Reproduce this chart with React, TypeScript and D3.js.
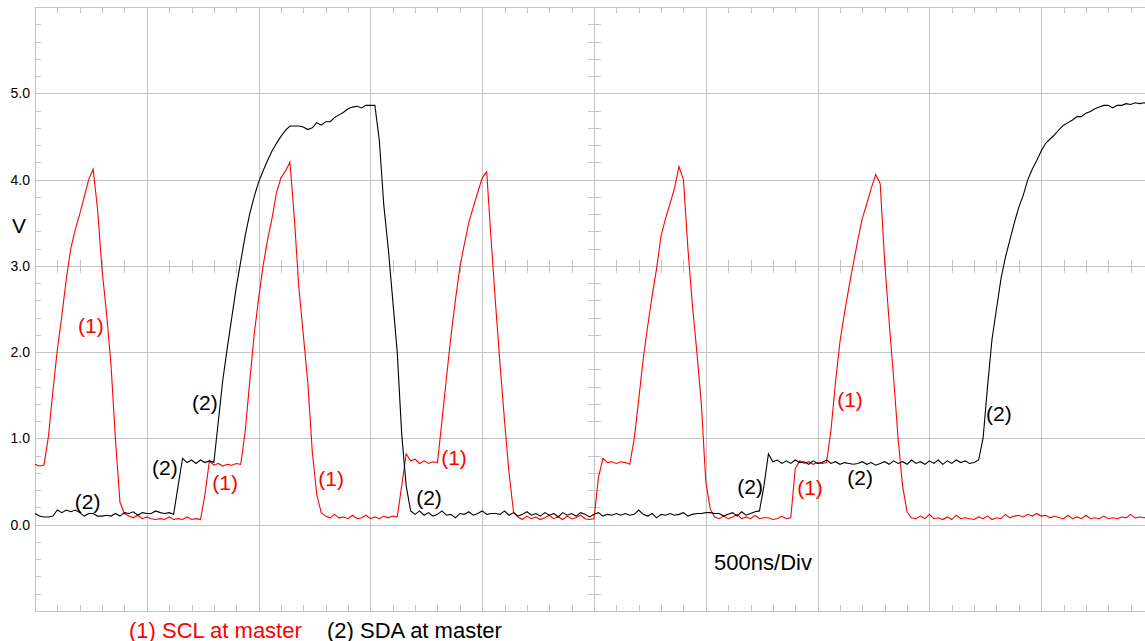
import React, { useEffect, useRef } from "react";
import * as d3 from "d3";

// scope samples, one every 20 ns, 0 .. 5000 ns (volts)
const SAMPLE_NS = 20;

const sclVolts = [
  0.70, 0.68, 0.69, 1.02, 1.55, 2.03, 2.42, 2.85, 3.20, 3.42,
  3.60, 3.80, 4.00, 4.12, 3.65, 2.95, 2.45, 1.85, 0.98, 0.26,
  0.13, 0.10, 0.08, 0.11, 0.07, 0.09, 0.07, 0.06, 0.07, 0.06,
  0.09, 0.06, 0.07, 0.06, 0.09, 0.06, 0.07, 0.06, 0.35, 0.74,
  0.69, 0.71, 0.68, 0.70, 0.69, 0.71, 0.70, 1.08, 1.65, 2.20,
  2.62, 3.00, 3.30, 3.55, 3.85, 4.02, 4.10, 4.20, 3.55, 2.75,
  2.20, 1.65, 0.85, 0.35, 0.14, 0.10, 0.08, 0.12, 0.08, 0.09,
  0.07, 0.11, 0.07, 0.08, 0.11, 0.07, 0.09, 0.07, 0.10, 0.08,
  0.10, 0.09, 0.45, 0.82, 0.74, 0.76, 0.71, 0.74, 0.71, 0.73,
  0.72, 1.20, 1.70, 2.18, 2.60, 2.98, 3.25, 3.50, 3.68, 3.85,
  4.02, 4.09, 3.30, 2.55, 1.85, 1.20, 0.60, 0.15, 0.09, 0.06,
  0.10, 0.07, 0.09, 0.06, 0.08, 0.11, 0.07, 0.09, 0.06, 0.10,
  0.07, 0.08, 0.11, 0.07, 0.06, 0.07, 0.55, 0.77, 0.72, 0.73,
  0.71, 0.73, 0.72, 0.70, 1.00, 1.45, 1.92, 2.30, 2.65, 2.97,
  3.35, 3.55, 3.72, 3.90, 4.15, 4.00, 3.20, 2.55, 2.00, 1.40,
  0.50, 0.18, 0.09, 0.07, 0.10, 0.07, 0.09, 0.12, 0.07, 0.09,
  0.07, 0.11, 0.07, 0.08, 0.08, 0.06, 0.07, 0.10, 0.07, 0.08,
  0.65, 0.74, 0.71, 0.73, 0.70, 0.72, 0.71, 0.72, 1.10, 1.65,
  2.12, 2.45, 2.75, 3.03, 3.30, 3.55, 3.72, 3.90, 4.06, 3.95,
  3.05, 2.35, 1.70, 1.00, 0.45, 0.15, 0.08, 0.07, 0.10, 0.07,
  0.12, 0.07, 0.08, 0.06, 0.09, 0.06, 0.11, 0.07, 0.08, 0.07,
  0.06, 0.09, 0.07, 0.10, 0.06, 0.08, 0.07, 0.12, 0.08, 0.10,
  0.11, 0.09, 0.12, 0.10, 0.13, 0.10, 0.11, 0.08, 0.10, 0.08,
  0.07, 0.11, 0.07, 0.09, 0.07, 0.11, 0.07, 0.08, 0.07, 0.10,
  0.07, 0.08, 0.07, 0.09, 0.08, 0.12, 0.08, 0.09, 0.08, 0.09,
  0.08,
];

const sdaVolts = [
  0.13, 0.10, 0.09, 0.09, 0.10, 0.17, 0.14, 0.17, 0.15, 0.17,
  0.14, 0.10, 0.13, 0.13, 0.10, 0.10, 0.11, 0.10, 0.13, 0.10,
  0.14, 0.13, 0.15, 0.11, 0.14, 0.13, 0.13, 0.16, 0.14, 0.13,
  0.14, 0.12, 0.45, 0.77, 0.72, 0.75, 0.71, 0.75, 0.72, 0.74,
  0.72, 1.20, 1.68, 2.05, 2.40, 2.75, 3.05, 3.35, 3.60, 3.80,
  3.97, 4.10, 4.22, 4.33, 4.42, 4.50, 4.57, 4.62, 4.62, 4.62,
  4.61, 4.58, 4.60, 4.66, 4.63, 4.67, 4.67, 4.72, 4.75, 4.78,
  4.82, 4.84, 4.85, 4.83, 4.86, 4.86, 4.86, 4.45, 3.70, 3.20,
  2.60, 2.00, 1.05, 0.45, 0.16, 0.12, 0.16, 0.11, 0.14, 0.10,
  0.12, 0.16, 0.11, 0.12, 0.08, 0.13, 0.12, 0.15, 0.11, 0.13,
  0.16, 0.12, 0.13, 0.13, 0.12, 0.16, 0.11, 0.14, 0.10, 0.12,
  0.15, 0.11, 0.13, 0.10, 0.14, 0.11, 0.13, 0.09, 0.14, 0.11,
  0.13, 0.10, 0.14, 0.12, 0.09, 0.12, 0.14, 0.10, 0.12, 0.11,
  0.13, 0.11, 0.13, 0.11, 0.12, 0.17, 0.12, 0.10, 0.13, 0.08,
  0.12, 0.11, 0.13, 0.11, 0.12, 0.14, 0.10, 0.12, 0.13, 0.13,
  0.14, 0.14, 0.13, 0.13, 0.10, 0.12, 0.14, 0.10, 0.15, 0.11,
  0.13, 0.15, 0.16, 0.45, 0.82, 0.73, 0.75, 0.71, 0.74, 0.71,
  0.75, 0.72, 0.73, 0.70, 0.74, 0.71, 0.72, 0.75, 0.71, 0.73,
  0.70, 0.72, 0.71, 0.70, 0.71, 0.73, 0.70, 0.72, 0.69, 0.71,
  0.73, 0.70, 0.74, 0.71, 0.73, 0.70, 0.75, 0.71, 0.73, 0.70,
  0.74, 0.71, 0.75, 0.70, 0.74, 0.71, 0.75, 0.72, 0.74, 0.71,
  0.72, 0.75, 1.00, 1.60, 2.15, 2.50, 2.85, 3.10, 3.30, 3.50,
  3.68, 3.82, 4.00, 4.12, 4.22, 4.33, 4.42, 4.47, 4.52, 4.58,
  4.63, 4.66, 4.69, 4.73, 4.73, 4.77, 4.79, 4.82, 4.84, 4.86,
  4.86, 4.83, 4.86, 4.86, 4.88, 4.87, 4.89, 4.88, 4.89, 4.88,
  4.89,
];

const yTickValues = [0, 1, 2, 3, 4, 5];

// "(1)" / "(2)" markers next to the traces, in ns / volts
const traceLabels = [
  { text: "(1)", trace: "scl", t: 250, v: 2.31 },
  { text: "(2)", trace: "sda", t: 760, v: 1.42 },
  { text: "(2)", trace: "sda", t: 235, v: 0.27 },
  { text: "(2)", trace: "sda", t: 581, v: 0.66 },
  { text: "(1)", trace: "scl", t: 850, v: 0.49 },
  { text: "(1)", trace: "scl", t: 1324, v: 0.53 },
  { text: "(1)", trace: "scl", t: 1874, v: 0.78 },
  { text: "(2)", trace: "sda", t: 1762, v: 0.31 },
  { text: "(2)", trace: "sda", t: 3198, v: 0.44 },
  { text: "(1)", trace: "scl", t: 3466, v: 0.43 },
  { text: "(1)", trace: "scl", t: 3645, v: 1.45 },
  { text: "(2)", trace: "sda", t: 3690, v: 0.55 },
  { text: "(2)", trace: "sda", t: 4311, v: 1.29 },
];

const legendItems = [
  { text: "(1) SCL at master", trace: "scl" },
  { text: "(2) SDA at master", trace: "sda" },
];

const timeBase = { text: "500ns/Div", t: 3256, v: -0.44 };
const unitLabel = "V";

const traceColor: Record<string, string> = { scl: "#ff0000", sda: "#000000" };

function Scope() {
  const ref = useRef<SVGSVGElement>(null);

  useEffect(() => {
    if (!ref.current) return;
    const svg = d3.select(ref.current);
    svg.selectAll("*").remove();

    const font = "'Liberation Sans', Arial, sans-serif";
    const gridColor = "#c4c4c4";

    const x = d3.scaleLinear().domain([0, 5000]).range([35, 1153]);
    const y = d3.scaleLinear().domain([-1, 6]).range([611, 7]);
    const px = (n: number) => Math.round(n) + 0.5;

    svg.append("defs").append("clipPath").attr("id", "plot-clip")
      .append("rect")
      .attr("x", x(0)).attr("y", y(6))
      .attr("width", x(5000) - x(0)).attr("height", y(-1) - y(6));

    const grid = svg.append("g")
      .attr("stroke", gridColor)
      .attr("stroke-width", 1)
      .attr("shape-rendering", "crispEdges");

    // major divisions
    const xMajor = d3.range(0, 5001, 500);
    const yMajor = d3.range(-1, 7, 1);
    grid.selectAll(".vx").data(xMajor).join("line")
      .attr("x1", d => px(x(d))).attr("x2", d => px(x(d)))
      .attr("y1", y(6)).attr("y2", y(-1));
    grid.selectAll(".hy").data(yMajor).join("line")
      .attr("class", "hy")
      .attr("x1", x(0)).attr("x2", x(5000))
      .attr("y1", d => px(y(d))).attr("y2", d => px(y(d)));

    // minor ticks, 5 per division
    const xMinor = d3.range(0, 51).filter(k => k % 5 !== 0).map(k => k * 100);
    const yMinor = d3.range(-5, 31).filter(k => k % 5 !== 0).map(k => k / 5);
    const tl = 6;
    const xc = x(2500), yc = y(3);

    const addX = (yPos: number, dy0: number, dy1: number) =>
      grid.append("g").selectAll("line").data(xMinor).join("line")
        .attr("x1", d => px(x(d))).attr("x2", d => px(x(d)))
        .attr("y1", yPos + dy0).attr("y2", yPos + dy1);
    const addY = (xPos: number, dx0: number, dx1: number) =>
      grid.append("g").selectAll("line").data(yMinor).join("line")
        .attr("y1", d => px(y(d))).attr("y2", d => px(y(d)))
        .attr("x1", xPos + dx0).attr("x2", xPos + dx1);

    addX(y(6), 0, tl);
    addX(y(-1), -tl, 0);
    addX(yc, -tl, tl + 1);
    addY(x(0), 0, tl);
    addY(xc, -tl, tl + 1);

    // y labels
    svg.append("g").selectAll("text").data(yTickValues).join("text")
      .attr("x", 30)
      .attr("y", d => y(d))
      .attr("text-anchor", "end")
      .attr("dominant-baseline", "central")
      .attr("font-family", font)
      .attr("font-size", 14)
      .attr("fill", "#000")
      .text(d => d3.format(".1f")(d));

    svg.append("text")
      .attr("x", 19).attr("y", y(3.47))
      .attr("text-anchor", "middle")
      .attr("dominant-baseline", "central")
      .attr("font-family", font)
      .attr("font-size", 21)
      .text(unitLabel);

    // traces
    const line = d3.line<number>()
      .x((_, i) => x(i * SAMPLE_NS))
      .y(d => y(d));

    const traces = svg.append("g").attr("clip-path", "url(#plot-clip)");
    traces.append("path")
      .attr("d", line(sclVolts))
      .attr("fill", "none")
      .attr("stroke", traceColor.scl)
      .attr("stroke-width", 1.1);
    traces.append("path")
      .attr("d", line(sdaVolts))
      .attr("fill", "none")
      .attr("stroke", traceColor.sda)
      .attr("stroke-width", 1.1);

    // trace markers
    svg.append("g").selectAll("text").data(traceLabels).join("text")
      .attr("x", d => x(d.t))
      .attr("y", d => y(d.v))
      .attr("text-anchor", "middle")
      .attr("dominant-baseline", "central")
      .attr("font-family", font)
      .attr("font-size", 21)
      .attr("fill", d => traceColor[d.trace])
      .text(d => d.text);

    svg.append("text")
      .attr("x", x(timeBase.t)).attr("y", y(timeBase.v))
      .attr("text-anchor", "middle")
      .attr("dominant-baseline", "central")
      .attr("font-family", font)
      .attr("font-size", 22)
      .text(timeBase.text);

    // legend under the plot
    const legendX = d3.scalePoint<string>()
      .domain(legendItems.map(d => d.trace))
      .range([129, 327]);
    svg.append("g").selectAll("text").data(legendItems).join("text")
      .attr("x", d => legendX(d.trace) ?? 0)
      .attr("y", 630)
      .attr("dominant-baseline", "central")
      .attr("font-family", font)
      .attr("font-size", 22)
      .attr("fill", d => traceColor[d.trace])
      .text(d => d.text);
  }, []);

  return (
    <svg
      ref={ref}
      width={1145}
      height={641}
      style={{ position: "absolute", left: 0, top: 0, background: "#fff" }}
    />
  );
}

export default function App() {
  return <Scope />;
}
